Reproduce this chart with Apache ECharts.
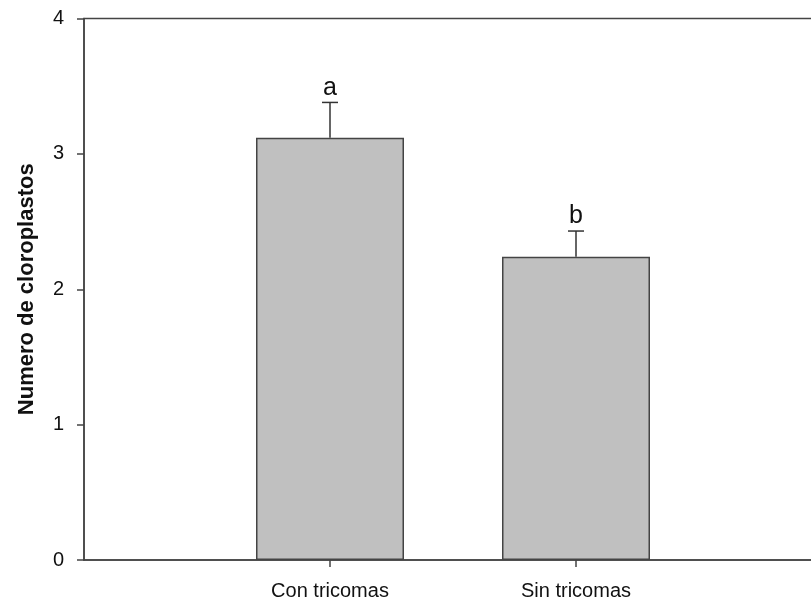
<!DOCTYPE html>
<html>
<head>
<meta charset="utf-8">
<script src="https://cdn.jsdelivr.net/npm/echarts@6/dist/echarts.min.js"></script>
<style>html,body{margin:0;padding:0;background:#fff;overflow:hidden;}#c{width:811px;height:603px;}</style>
</head>
<body>
<div id="c"></div>
<script>
const categories = ['Con tricomas', 'Sin tricomas'];
const means = [3.12, 2.24];
const errors = [0.26, 0.19];
const letters = ['a', 'b'];
const yTicks = [0, 1, 2, 3, 4];
const yTitle = 'Numero de cloroplastos';

const FONT = "'Liberation Sans', Arial, sans-serif";
const xCats = [''].concat(categories, ['']);
const barData = [null].concat(means, [null]);
const errData = categories.map((c, i) => [i + 1, means[i], errors[i]]);

const chart = echarts.init(document.getElementById('c'), null, {renderer: 'canvas'});
chart.setOption({
  animation: false,
  backgroundColor: '#ffffff',
  grid: {left: 84, width: 738, top: 18.5, bottom: 43, show: true, borderColor: '#444', borderWidth: 1.5,
    containLabel: false, outerBoundsMode: 'none'},
  xAxis: {
    type: 'category', data: xCats, boundaryGap: false,
    axisLine: {show: true, lineStyle: {color: '#444', width: 1.5}},
    axisTick: {show: true, length: 7, inside: false, lineStyle: {color: '#444', width: 1.5},
      interval: (i) => i >= 1 && i <= categories.length},
    axisLabel: {fontFamily: FONT, fontSize: 20, color: '#111', margin: 21,
      interval: (i) => i >= 1 && i <= categories.length},
    splitLine: {show: false}
  },
  yAxis: {
    type: 'value', min: yTicks[0], max: yTicks[yTicks.length - 1], interval: 1,
    name: yTitle, nameLocation: 'middle', nameGap: 46,
    nameTextStyle: {fontFamily: FONT, fontSize: 22, fontWeight: 'bold', color: '#111'},
    axisLine: {show: true, lineStyle: {color: '#444', width: 1.5}},
    axisTick: {show: true, length: 7, lineStyle: {color: '#444', width: 1.5}},
    axisLabel: {fontFamily: FONT, fontSize: 20, color: '#111', margin: 20},
    splitLine: {show: false}
  },
  series: [
    {
      type: 'bar', data: barData, barWidth: 148,
      itemStyle: {color: '#c0c0c0', borderColor: '#444', borderWidth: 1.5}
    },
    {
      type: 'custom', data: errData, z: 5,
      renderItem: function (params, api) {
        const x = api.value(0), m = api.value(1), e = api.value(2);
        const p0 = api.coord([x, m]);
        const p1 = api.coord([x, m + e]);
        return {
          type: 'group',
          children: [
            {type: 'line', shape: {x1: p0[0], y1: p0[1], x2: p1[0], y2: p1[1]}, style: {stroke: '#333', lineWidth: 1.5}},
            {type: 'line', shape: {x1: p1[0] - 8, y1: p1[1], x2: p1[0] + 8, y2: p1[1]}, style: {stroke: '#333', lineWidth: 1.5}},
            {type: 'text', x: p1[0], y: p1[1] - 2, style: {text: letters[params.dataIndex], fontFamily: FONT, fontSize: 25, fill: '#111', align: 'center', verticalAlign: 'bottom'}}
          ]
        };
      }
    }
  ]
});
</script>
</body>
</html>
